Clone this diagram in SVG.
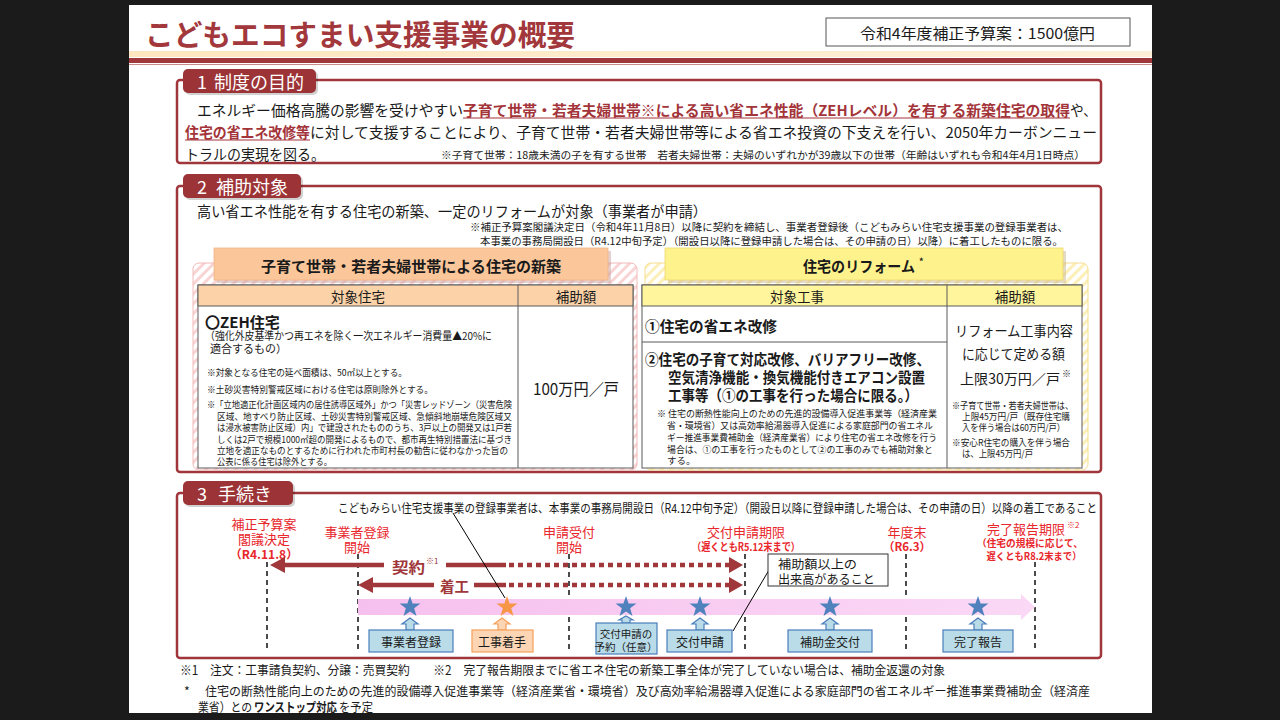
<svg xmlns="http://www.w3.org/2000/svg" width="1280" height="720" viewBox="0 0 1280 720">
<style>
text{font-family:'Noto Sans CJK JP','Noto Sans CJK SC','Noto Sans',sans-serif;dominant-baseline:central;fill:#1a1a1a}
.b{font-weight:bold}
.dr{fill:#a3343a}
.red{fill:#e8262b}
.w{fill:#fff}
.mid{text-anchor:middle}
.frame{fill:none;stroke:#a0363b;stroke-width:2.5}
.tab{fill:#9c3337}
.sh{fill:#000;opacity:0.18}
.tbl{fill:#fff;stroke:#5a5a5a;stroke-width:1}
.ln{stroke:#5a5a5a;stroke-width:1}
.vd{stroke:#111;stroke-width:1.5;stroke-dasharray:5 4}
.arr{stroke:#a0373a;stroke-width:4.5;fill:none}
.dot{stroke:#a0373a;stroke-width:4.5;stroke-dasharray:5 4;fill:none}
.ah{fill:#a0373a}
.bbox{fill:#b9dce8;stroke:#4a7ebb;stroke-width:1.2}
.obox{fill:#fcd5b4;stroke:#f5a05a;stroke-width:1.2}
.ul{stroke:#a3343a;stroke-width:1.2}
.lead{stroke:#000;stroke-width:1}
</style>
<defs>
<pattern id="hp" width="7" height="7" patternUnits="userSpaceOnUse" patternTransform="rotate(45)"><rect width="7" height="7" fill="#fff"/><rect width="3" height="7" fill="#f8d4d4"/></pattern>
<pattern id="hy" width="7" height="7" patternUnits="userSpaceOnUse" patternTransform="rotate(45)"><rect width="7" height="7" fill="#fff"/><rect width="3" height="7" fill="#fcefb8"/></pattern>
<path id="star" d="M0,-11 L2.59,-3.56 L10.46,-3.4 L4.19,1.36 L6.47,8.9 L0,4.4 L-6.47,8.9 L-4.19,1.36 L-10.46,-3.4 L-2.59,-3.56 Z"/>
<path id="ua" d="M0,0 L8,6 L4,6 L4,12 L-4,12 L-4,6 L-8,6 Z"/>
<linearGradient id="pk" x1="0" x2="1" y1="0" y2="0"><stop offset="0" stop-color="#f6c0ee"/><stop offset="1" stop-color="#fbd8f6"/></linearGradient>
<linearGradient id="sep" x1="0" x2="1" y1="0" y2="0"><stop offset="0" stop-color="#fde6bf"/><stop offset="1" stop-color="#fdf0d8"/></linearGradient>
</defs>

<rect x="0" y="0" width="1280" height="720" fill="#1b1b1b"/>
<rect x="129" y="5" width="1023" height="708" fill="#fff"/>

<g id="title">
<text x="145" y="33" class="b" font-size="29" textLength="430" lengthAdjust="spacingAndGlyphs" style="fill:#a3383c">こどもエコすまい支援事業の概要</text>
<rect x="826" y="18" width="304" height="28" fill="#fff" stroke="#555" stroke-width="1"/>
<text x="860" y="32" font-size="15" textLength="235" lengthAdjust="spacingAndGlyphs">令和4年度補正予算案：1500億円</text>
<rect x="129" y="51" width="1023" height="6" fill="url(#sep)"/>
<rect x="129" y="58" width="1023" height="5" fill="#a0373a"/>
<rect x="129" y="64" width="1023" height="1" fill="#c98a8a"/>
</g>

<g id="sec1">
<rect x="177" y="80" width="924" height="83" rx="3" class="frame"/>
<rect x="185" y="71" width="133" height="24" rx="5" class="sh"/>
<rect x="183" y="69" width="133" height="24" rx="5" class="tab"/>
<text x="197" y="81" font-size="18" class="w">1</text>
<text x="214" y="81" font-size="18" class="w">制度の目的</text>
<text x="197" y="109" font-size="14.5" textLength="266" lengthAdjust="spacingAndGlyphs">エネルギー価格高騰の影響を受けやすい</text>
<text x="463" y="109" font-size="14.5" class="b dr" textLength="607" lengthAdjust="spacingAndGlyphs">子育て世帯・若者夫婦世帯※による高い省エネ性能（ZEHレベル）を有する新築住宅の取得</text>
<line x1="463" y1="118" x2="1070" y2="118" class="ul"/>
<text x="1070" y="109" font-size="14.5" textLength="27" lengthAdjust="spacingAndGlyphs">や、</text>
<text x="185" y="131" font-size="14.5" class="b dr" textLength="125" lengthAdjust="spacingAndGlyphs">住宅の省エネ改修等</text>
<line x1="185" y1="140" x2="310" y2="140" class="ul"/>
<text x="310" y="131" font-size="14.5" textLength="787" lengthAdjust="spacingAndGlyphs">に対して支援することにより、子育て世帯・若者夫婦世帯等による省エネ投資の下支えを行い、2050年カーボンニュー</text>
<text x="185" y="153" font-size="14.5" textLength="140" lengthAdjust="spacingAndGlyphs">トラルの実現を図る。</text>
<text x="441" y="154" font-size="10.5" textLength="644" lengthAdjust="spacingAndGlyphs">※子育て世帯：18歳未満の子を有する世帯　若者夫婦世帯：夫婦のいずれかが39歳以下の世帯（年齢はいずれも令和4年4月1日時点）</text>
</g>

<g id="sec2">
<rect x="177" y="186" width="924" height="286" rx="3" class="frame"/>
<rect x="185" y="176" width="118" height="24" rx="5" class="sh"/>
<rect x="183" y="174" width="118" height="24" rx="5" class="tab"/>
<text x="197" y="186" font-size="18" class="w">2</text>
<text x="216" y="186" font-size="18" class="w">補助対象</text>
<text x="197" y="210" font-size="14.5" textLength="510" lengthAdjust="spacingAndGlyphs">高い省エネ性能を有する住宅の新築、一定のリフォームが対象（事業者が申請）</text>
<text x="470" y="226" font-size="10.5" textLength="598" lengthAdjust="spacingAndGlyphs">※補正予算案閣議決定日（令和4年11月8日）以降に契約を締結し、事業者登録後（こどもみらい住宅支援事業の登録事業者は、</text>
<text x="480" y="240" font-size="10.5" textLength="583" lengthAdjust="spacingAndGlyphs">本事業の事務局開設日（R4.12中旬予定）（開設日以降に登録申請した場合は、その申請の日）以降）に着工したものに限る。</text>
</g>

<g id="newbuild">
<rect x="193" y="263" width="444" height="207" rx="6" fill="url(#hp)" stroke="#f2b9b9" stroke-width="1"/>
<rect x="217" y="251" width="394" height="32" fill="#c9a0a0" opacity="0.5"/>
<rect x="214" y="248" width="394" height="32" fill="#fbc79a" stroke="#f3b585" stroke-width="0.8"/>
<text x="411" y="265" font-size="15" class="b mid" textLength="300" lengthAdjust="spacingAndGlyphs">子育て世帯・若者夫婦世帯による住宅の新築</text>
<rect x="198" y="285" width="435" height="183" class="tbl"/>
<rect x="198" y="285" width="435" height="21" fill="#fcd3a8" stroke="#5a5a5a" stroke-width="1"/>
<line x1="518" y1="285" x2="518" y2="468" class="ln"/>
<text x="358" y="296" font-size="13.5" class="mid">対象住宅</text>
<text x="576" y="296" font-size="13.5" class="mid">補助額</text>
<text x="205" y="321" font-size="15" class="b">〇ZEH住宅</text>
<text x="205" y="335" font-size="11" textLength="287" lengthAdjust="spacingAndGlyphs">（強化外皮基準かつ再エネを除く一次エネルギー消費量▲20%に</text>
<text x="210" y="348" font-size="11">適合するもの）</text>
<text x="207" y="372" font-size="9.5" textLength="200" lengthAdjust="spacingAndGlyphs">※対象となる住宅の延べ面積は、50㎡以上とする。</text>
<text x="207" y="389" font-size="9.5" textLength="226" lengthAdjust="spacingAndGlyphs">※土砂災害特別警戒区域における住宅は原則除外とする。</text>
<text x="207" y="404" font-size="9.5" textLength="305" lengthAdjust="spacingAndGlyphs">※「立地適正化計画区域内の居住誘導区域外」かつ「災害レッドゾーン（災害危険</text>
<text x="217" y="415.5" font-size="9.5" textLength="295" lengthAdjust="spacingAndGlyphs">区域、地すべり防止区域、土砂災害特別警戒区域、急傾斜地崩壊危険区域又</text>
<text x="217" y="427" font-size="9.5" textLength="295" lengthAdjust="spacingAndGlyphs">は浸水被害防止区域）内」で建設されたもののうち、3戸以上の開発又は1戸若</text>
<text x="217" y="438.5" font-size="9.5" textLength="295" lengthAdjust="spacingAndGlyphs">しくは2戸で規模1000㎡超の開発によるもので、都市再生特別措置法に基づき</text>
<text x="217" y="450" font-size="9.5" textLength="291" lengthAdjust="spacingAndGlyphs">立地を適正なものとするために行われた市町村長の勧告に従わなかった旨の</text>
<text x="217" y="461" font-size="9.5" textLength="115" lengthAdjust="spacingAndGlyphs">公表に係る住宅は除外とする。</text>
<text x="576" y="388" font-size="16" class="mid" textLength="86" lengthAdjust="spacingAndGlyphs">100万円／戸</text>
</g>

<g id="reform">
<rect x="645" y="263" width="443" height="207" rx="6" fill="url(#hy)" stroke="#f5dd8e" stroke-width="1"/>
<rect x="668" y="251" width="398" height="32" fill="#c9b890" opacity="0.5"/>
<rect x="665" y="248" width="398" height="32" fill="#fef28c" stroke="#efd870" stroke-width="0.8"/>
<text x="803" y="265" font-size="15" class="b" textLength="112" lengthAdjust="spacingAndGlyphs">住宅のリフォーム</text>
<text x="919" y="261" font-size="9" class="b">*</text>
<rect x="642" y="285" width="440" height="183" class="tbl"/>
<rect x="642" y="285" width="440" height="21" fill="#fff59c" stroke="#5a5a5a" stroke-width="1"/>
<line x1="947" y1="285" x2="947" y2="468" class="ln"/>
<line x1="642" y1="342" x2="947" y2="342" class="ln"/>
<text x="797" y="296" font-size="13.5" class="mid">対象工事</text>
<text x="1015" y="296" font-size="13.5" class="mid">補助額</text>
<text x="645" y="325" font-size="15" class="b" textLength="132" lengthAdjust="spacingAndGlyphs">①住宅の省エネ改修</text>
<text x="645" y="358" font-size="15" class="b" textLength="285" lengthAdjust="spacingAndGlyphs">②住宅の子育て対応改修、バリアフリー改修、</text>
<text x="668" y="376" font-size="15" class="b" textLength="257" lengthAdjust="spacingAndGlyphs">空気清浄機能・換気機能付きエアコン設置</text>
<text x="668" y="394" font-size="15" class="b" textLength="250" lengthAdjust="spacingAndGlyphs">工事等（①の工事を行った場合に限る。）</text>
<text x="657" y="413" font-size="9.5" textLength="280" lengthAdjust="spacingAndGlyphs">※ 住宅の断熱性能向上のための先進的設備導入促進事業等（経済産業</text>
<text x="667" y="425" font-size="9.5" textLength="266" lengthAdjust="spacingAndGlyphs">省・環境省）又は高効率給湯器導入促進による家庭部門の省エネル</text>
<text x="667" y="437" font-size="9.5" textLength="270" lengthAdjust="spacingAndGlyphs">ギー推進事業費補助金（経済産業省）により住宅の省エネ改修を行う</text>
<text x="667" y="448.5" font-size="9.5" textLength="266" lengthAdjust="spacingAndGlyphs">場合は、①の工事を行ったものとして②の工事のみでも補助対象と</text>
<text x="667" y="460" font-size="9.5">する。</text>
<text x="955" y="330" font-size="14" textLength="118" lengthAdjust="spacingAndGlyphs">リフォーム工事内容</text>
<text x="962" y="353" font-size="14" textLength="103" lengthAdjust="spacingAndGlyphs">に応じて定める額</text>
<text x="960" y="378" font-size="14" textLength="100" lengthAdjust="spacingAndGlyphs">上限30万円／戸</text>
<text x="1062" y="373" font-size="9">※</text>
<text x="952" y="405" font-size="9.5" textLength="121" lengthAdjust="spacingAndGlyphs">※子育て世帯・若者夫婦世帯は、</text>
<text x="962" y="416" font-size="9.5" textLength="108" lengthAdjust="spacingAndGlyphs">上限45万円/戸（既存住宅購</text>
<text x="962" y="427" font-size="9.5" textLength="103" lengthAdjust="spacingAndGlyphs">入を伴う場合は60万円/戸）</text>
<text x="952" y="442" font-size="9.5" textLength="118" lengthAdjust="spacingAndGlyphs">※安心R住宅の購入を伴う場合</text>
<text x="962" y="453" font-size="9.5" textLength="71" lengthAdjust="spacingAndGlyphs">は、上限45万円/戸</text>
</g>

<g id="sec3">
<rect x="177" y="493" width="924" height="165" rx="3" class="frame"/>
<rect x="185" y="483" width="110" height="24" rx="5" class="sh"/>
<rect x="183" y="481" width="110" height="24" rx="5" class="tab"/>
<text x="197" y="493" font-size="18" class="w">3</text>
<text x="218" y="493" font-size="18" class="w">手続き</text>
<text x="338" y="507" font-size="12.5" textLength="759" lengthAdjust="spacingAndGlyphs">こどもみらい住宅支援事業の登録事業者は、本事業の事務局開設日（R4.12中旬予定）（開設日以降に登録申請した場合は、その申請の日）以降の着工であること</text>
</g>

<g id="milestones">
<g id="m-kakugi">
<text x="264" y="523" font-size="13" class="red mid">補正予算案</text>
<text x="264" y="538" font-size="13" class="red mid">閣議決定</text>
<text x="264" y="553" font-size="12" class="red b mid">（R4.11.8）</text>
</g>
<g id="m-touroku">
<text x="357" y="531" font-size="13" class="red mid">事業者登録</text>
<text x="357" y="546" font-size="13" class="red mid">開始</text>
</g>
<g id="m-uketsuke">
<text x="569" y="531" font-size="13" class="red mid">申請受付</text>
<text x="569" y="546" font-size="13" class="red mid">開始</text>
</g>
<g id="m-kigen">
<text x="746" y="531" font-size="13" class="red mid">交付申請期限</text>
<text x="746" y="546" font-size="11" class="red b mid" textLength="108" lengthAdjust="spacingAndGlyphs">（遅くともR5.12末まで）</text>
</g>
<g id="m-nendomatsu">
<text x="907" y="531" font-size="13" class="red mid">年度末</text>
<text x="907" y="546" font-size="11.5" class="red b mid">（R6.3）</text>
</g>
<g id="m-kanryou">
<text x="1026" y="528" font-size="13" class="red mid">完了報告期限</text>
<text x="1067" y="524" font-size="8" class="red">※2</text>
<text x="1030" y="542.5" font-size="10" class="red b mid" textLength="106" lengthAdjust="spacingAndGlyphs">（住宅の規模に応じて、</text>
<text x="1034" y="555.5" font-size="10" class="red b mid" textLength="95" lengthAdjust="spacingAndGlyphs">遅くともR8.2末まで）</text>
</g>
</g>

<g id="connectors">
<line x1="267" y1="562" x2="267" y2="648" class="vd"/>
<line x1="358" y1="554" x2="358" y2="650" class="vd"/>
<line x1="569" y1="554" x2="569" y2="650" class="vd"/>
<line x1="745" y1="554" x2="745" y2="650" class="vd"/>
<line x1="906" y1="554" x2="906" y2="650" class="vd"/>
<line x1="1035" y1="562" x2="1035" y2="650" class="vd"/>
<polygon points="358,599 1021,599 1021,594 1035,607 1021,620 1021,615 358,615" fill="url(#pk)"/>
<line x1="283" y1="565" x2="384" y2="565" class="arr"/>
<line x1="446" y1="565" x2="506" y2="565" class="arr"/>
<line x1="509" y1="565" x2="732" y2="565" class="dot"/>
<polygon points="270,565 285,557 285,573" class="ah"/>
<polygon points="743,565 729,557 729,573" class="ah"/>
<line x1="371" y1="585" x2="434" y2="585" class="arr"/>
<line x1="474" y1="585" x2="506" y2="585" class="arr"/>
<line x1="509" y1="585" x2="732" y2="585" class="dot"/>
<polygon points="358,585 373,577 373,593" class="ah"/>
<polygon points="743,585 729,577 729,593" class="ah"/>
<text x="392" y="566" font-size="14.5" class="b" textLength="33" lengthAdjust="spacingAndGlyphs" style="fill:#a0373a">契約</text>
<text x="426" y="560" font-size="8" style="fill:#a0373a">※1</text>
<text x="440" y="585" font-size="14.5" class="b" textLength="29" lengthAdjust="spacingAndGlyphs" style="fill:#a0373a">着工</text>
<line x1="453" y1="513" x2="505" y2="598" class="lead"/>
<line x1="769" y1="570" x2="733" y2="631" class="lead"/>
</g>

<g id="note-dekidaka">
<rect x="768" y="554" width="120" height="32" fill="#fff" stroke="#333" stroke-width="1"/>
<text x="778" y="563" font-size="12.5" textLength="79" lengthAdjust="spacingAndGlyphs">補助額以上の</text>
<text x="778" y="578" font-size="12.5" textLength="97" lengthAdjust="spacingAndGlyphs">出来高があること</text>
</g>

<g id="s-touroku">
<use href="#star" x="410" y="607" fill="#4f81bd"/>
<use href="#ua" x="410" y="618" class="bbox"/>
<rect x="369" y="630" width="84" height="22" class="bbox"/>
<text x="411" y="641" font-size="12" class="mid">事業者登録</text>
</g>
<g id="s-chakushu">
<use href="#star" x="507" y="607" fill="#f79646"/>
<use href="#ua" x="502" y="618" class="obox"/>
<rect x="472" y="630" width="61" height="22" class="obox"/>
<text x="502" y="641" font-size="12" class="mid">工事着手</text>
</g>
<g id="s-yoyaku">
<use href="#star" x="626" y="607" fill="#4f81bd"/>
<path d="M626,616 L633,620 L630,620 L630,623 L622,623 L622,620 L619,620 Z" class="bbox"/>
<rect x="596" y="623" width="61" height="31" class="bbox"/>
<text x="626" y="633" font-size="10.5" class="mid">交付申請の</text>
<text x="626" y="646" font-size="10.5" class="mid">予約（任意）</text>
</g>
<g id="s-koufushinsei">
<use href="#star" x="700" y="607" fill="#4f81bd"/>
<use href="#ua" x="700" y="618" class="bbox"/>
<rect x="667" y="630" width="65" height="22" class="bbox"/>
<text x="700" y="641" font-size="12" class="mid">交付申請</text>
</g>
<g id="s-koufu">
<use href="#star" x="830" y="607" fill="#4f81bd"/>
<use href="#ua" x="830" y="618" class="bbox"/>
<rect x="788" y="630" width="84" height="22" class="bbox"/>
<text x="830" y="641" font-size="12" class="mid">補助金交付</text>
</g>
<g id="s-kanryou">
<use href="#star" x="978" y="607" fill="#4f81bd"/>
<use href="#ua" x="978" y="618" class="bbox"/>
<rect x="943" y="630" width="70" height="22" class="bbox"/>
<text x="978" y="641" font-size="12" class="mid">完了報告</text>
</g>

<g id="footnotes">
<text x="180" y="669" font-size="12.5" textLength="765" lengthAdjust="spacingAndGlyphs">※1　注文：工事請負契約、分譲：売買契約　　※2　完了報告期限までに省エネ住宅の新築工事全体が完了していない場合は、補助金返還の対象</text>
<text x="184" y="690" font-size="12.5">*</text>
<text x="205" y="690" font-size="12.5" textLength="885" lengthAdjust="spacingAndGlyphs">住宅の断熱性能向上のための先進的設備導入促進事業等（経済産業省・環境省）及び高効率給湯器導入促進による家庭部門の省エネルギー推進事業費補助金（経済産</text>
<text x="198" y="706" font-size="12.5" textLength="54" lengthAdjust="spacingAndGlyphs">業省）との</text>
<text x="254" y="706" font-size="12.5" class="b" textLength="83" lengthAdjust="spacingAndGlyphs">ワンストップ対応</text>
<line x1="254" y1="714" x2="337" y2="714" stroke="#1a1a1a" stroke-width="1"/>
<text x="339" y="706" font-size="12.5" textLength="34" lengthAdjust="spacingAndGlyphs">を予定</text>
</g>
</svg>
